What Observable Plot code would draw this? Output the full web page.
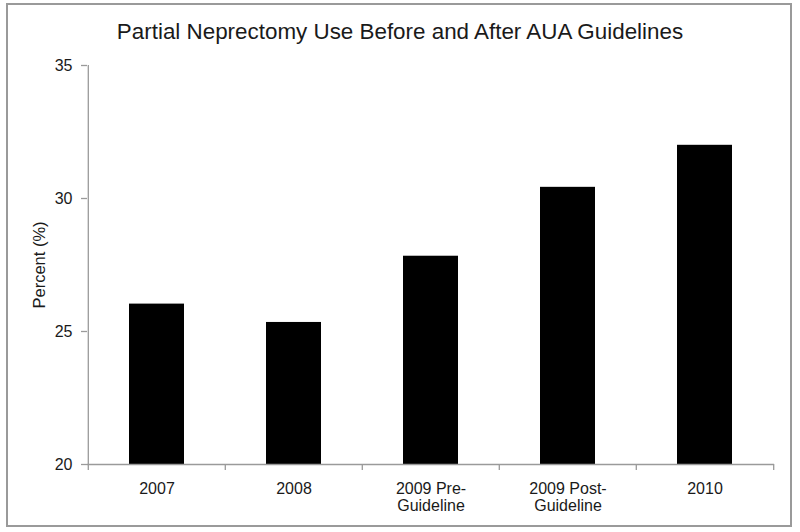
<!DOCTYPE html>
<html><head><meta charset="utf-8">
<script src="https://cdn.jsdelivr.net/npm/d3@7"></script>
<script src="https://cdn.jsdelivr.net/npm/@observablehq/plot@0.6"></script>
<style>
body{margin:0;background:#fff;}
#wrap{position:relative;width:800px;height:532px;font-family:"Liberation Sans",Arial,sans-serif;background:#fff;overflow:hidden;}
#frame{position:absolute;left:6px;top:3px;width:786px;height:524px;border:2px solid #9a9a9a;box-sizing:border-box;pointer-events:none;}
#title{position:absolute;left:0;width:800px;top:21px;text-align:center;font-size:22.4px;line-height:22px;color:#1a1a1a;white-space:nowrap;}
#chart{position:absolute;left:0;top:0;}
</style>
</head><body>
<div id="wrap"><div id="chart"></div><div id="title">Partial Neprectomy Use Before and After AUA Guidelines</div><div id="frame"></div></div>
<script>
const categories = ["2007", "2008", "2009 Pre-\nGuideline", "2009 Post-\nGuideline", "2010"];
const values = [26.03, 25.34, 27.83, 30.42, 32.0];
const yTicks = [20, 25, 30, 35];
const yLabel = "Percent (%)";

const data = categories.map((c, i) => ({category: c, value: values[i]}));

const W = 800, H = 532, mL = 87, mR = 26, mT = 65, mB = 68;
const step = (W - mL - mR) / categories.length;
const axisColor = "#9a9a9a";
const textColor = "#1a1a1a";

const plot = Plot.plot({
  width: W, height: H,
  marginLeft: mL, marginRight: mR, marginTop: mT, marginBottom: mB,
  style: {fontFamily: "'Liberation Sans', Arial, sans-serif", fontSize: "16px", background: "transparent", color: textColor},
  x: {type: "band", domain: categories, paddingInner: 0.6, paddingOuter: 0.3, axis: null},
  y: {domain: [20, 35], axis: null},
  marks: [
    Plot.barY(data, {x: "category", y1: 20, y2: "value", fill: "black"}),
    Plot.ruleY([20], {stroke: axisColor, strokeWidth: 1.3}),
    Plot.ruleX([categories[0]], {dx: -step / 2, stroke: axisColor, strokeWidth: 1.3}),
    Plot.ruleX(categories, {dx: -step / 2, y1: 20, y2: 20, insetBottom: -6, stroke: axisColor, strokeWidth: 1.3}),
    Plot.ruleX([categories[categories.length - 1]], {dx: step / 2, y1: 20, y2: 20, insetBottom: -6, stroke: axisColor, strokeWidth: 1.3}),
    Plot.axisY({ticks: yTicks, tickSize: 6, tickPadding: 9, stroke: axisColor, strokeWidth: 1.3, fill: textColor, fontSize: 16, label: null}),
    Plot.axisX({tickSize: 0, tickPadding: 17, fill: textColor, fontSize: 16, lineHeight: 1.06, label: null}),
    Plot.text([yLabel], {frameAnchor: "left", textAnchor: "middle", dx: -48, rotate: -90, fontSize: 16.5, fill: textColor})
  ]
});
document.getElementById("chart").appendChild(plot);
</script>
</body></html>
